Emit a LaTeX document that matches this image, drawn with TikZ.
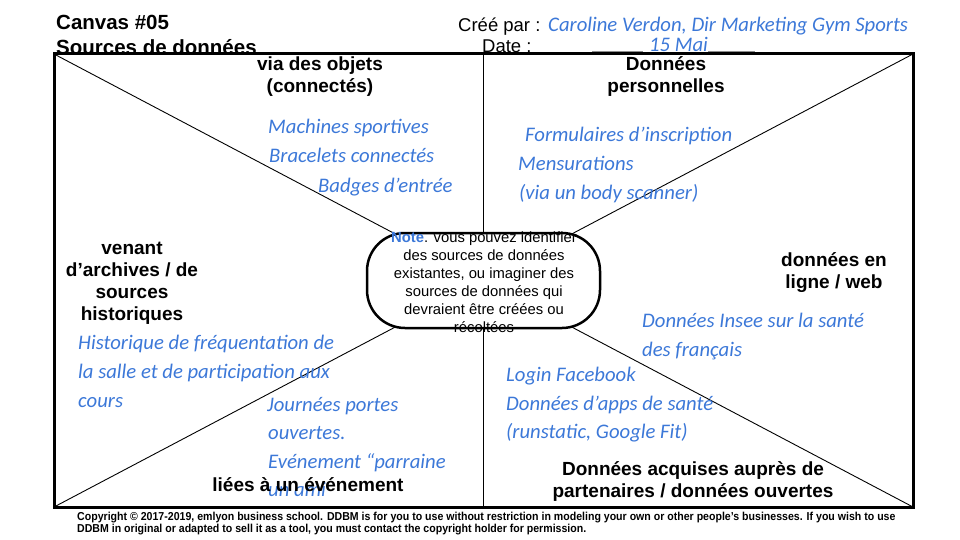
\documentclass[tikz,border=0pt]{standalone}
\usepackage{fontspec}
\setmainfont{Liberation Sans}
\newfontfamily\handfont{Carlito}
\usetikzlibrary{positioning}

\definecolor{inkblue}{RGB}{60,120,216}
\definecolor{rulegray}{RGB}{140,140,140}

\tikzset{
  canvasbox/.style={draw, line width=3pt, minimum width=859pt, minimum height=453pt,
    inner sep=0pt, outer sep=0pt},
  divider/.style={line width=0.9pt},
  notepill/.style={draw, fill=white, line width=2.5pt, rounded corners=38pt,
    minimum width=233pt, minimum height=95pt, inner sep=0pt, outer sep=0pt},
  notetext/.style={align=center, inner sep=0pt, font=\fontsize{14.8}{18}\selectfont},
  zonelabel/.style={align=center, inner sep=0pt, font=\fontsize{19}{22}\selectfont\bfseries},
  titletext/.style={anchor=base west, inner sep=0pt, font=\fontsize{20.5}{24}\selectfont\bfseries},
  metatext/.style={anchor=base west, inner sep=0pt, font=\fontsize{18.5}{22}\selectfont},
  hand/.style={anchor=base west, inner sep=0pt, text=inkblue,
    font=\handfont\itshape\fontsize{20.7}{24}\selectfont},
  copytext/.style={anchor=base west, inner sep=0pt, font=\fontsize{11.5}{12}\selectfont\bfseries}
}

\begin{document}
\begin{tikzpicture}[x=1pt, y=-1pt]
\useasboundingbox (0,0) rectangle (960,540);

% header
\node[titletext] (canvasno) at (56,30) {Canvas \#05};
\node[titletext] (canvasname) at (56,55) {Sources de données};
\node[metatext] (author) at (458,32) {Créé par :};
\node[metatext] (date) at (482,53) {Date :};
\draw[rulegray, line width=2.5pt] (592,52) -- (643,52);
\draw[rulegray, line width=2.5pt] (708,52) -- (755,52);
\node[hand] (authorval) at (548,32) {Caroline Verdon, Dir Marketing Gym Sports};
\node[hand] (dateval) at (649,52) {15 Mai};

% canvas and its dividers
\node[canvasbox] (canvas) at (483.5,280.5) {};
\draw[divider] (canvas.north) -- (canvas.south);
\foreach \c in {north west,north east,south west,south east}
  \draw[divider] (canvas.\c) -- (canvas.center);
\node[notepill] (note) at (canvas.center) {};
\node[notetext] (notebody) at (484,282) {\textcolor{inkblue}{\textbf{Note}}. vous pouvez identifier\\
  des sources de données\\existantes, ou imaginer des\\sources de données qui\\
  devraient être créées ou\\récoltées};

% zone titles
\node[zonelabel] (objets) at (320,77) {via des objets\\(connectés)};
\node[zonelabel] (perso) at (666,77) {Données\\personnelles};
\node[zonelabel] (archives) at (132,283) {venant\\d’archives / de\\sources\\historiques};
\node[zonelabel] (web) at (834,273) {données en\\ligne / web};
\node[zonelabel] (partenaires) at (693,481) {Données acquises auprès de\\partenaires / données ouvertes};

% handwritten notes
\node[hand] (machines) at (268,134) {Machines sportives};
\node[hand] (bracelets) at (269,163) {Bracelets connectés};
\node[hand] (badges) at (318,192) {Badges d’entrée};
\node[hand] (formulaires) at (525,142) {Formulaires d’inscription};
\node[hand] (mensur) at (518,171) {Mensurations};
\node[hand] (scanner) at (519,199) {(via un body scanner)};
\node[hand] (historique) at (78,349) {Historique de fréquentation de};
\node[hand] (salle) at (78,378) {la salle et de participation aux};
\node[hand] (cours) at (78,407) {cours};
\node[hand] (journees) at (267,411) {Journées portes};
\node[hand] (ouvertes) at (268,439) {ouvertes.};
\node[hand] (parraine) at (268,468) {Evénement “parraine};
\begin{scope}
  \clip (0,0) rectangle (960,499);
  \node[hand] (ami) at (268,496) {un ami};
\end{scope}
\node[hand] (insee) at (642,327) {Données Insee sur la santé};
\node[hand] (francais) at (642,356) {des français};
\node[hand] (facebook) at (506,381) {Login Facebook};
\node[hand] (apps) at (506,410) {Données d’apps de santé};
\node[hand] (runstatic) at (506,438) {(runstatic, Google Fit)};
\node[zonelabel] (evenement) at (308,485) {liées à un événement};

% footer
\node[copytext] (copy1) at (77,520) {\scalebox{0.92}[1]{Copyright © 2017-2019, emlyon business school. DDBM is for you to use without restriction in modeling your own or other people’s businesses. If you wish to use}};
\node[copytext] (copy2) at (77,532) {\scalebox{0.92}[1]{DDBM in original or adapted to sell it as a tool, you must contact the copyright holder for permission.}};
\end{tikzpicture}
\end{document}
